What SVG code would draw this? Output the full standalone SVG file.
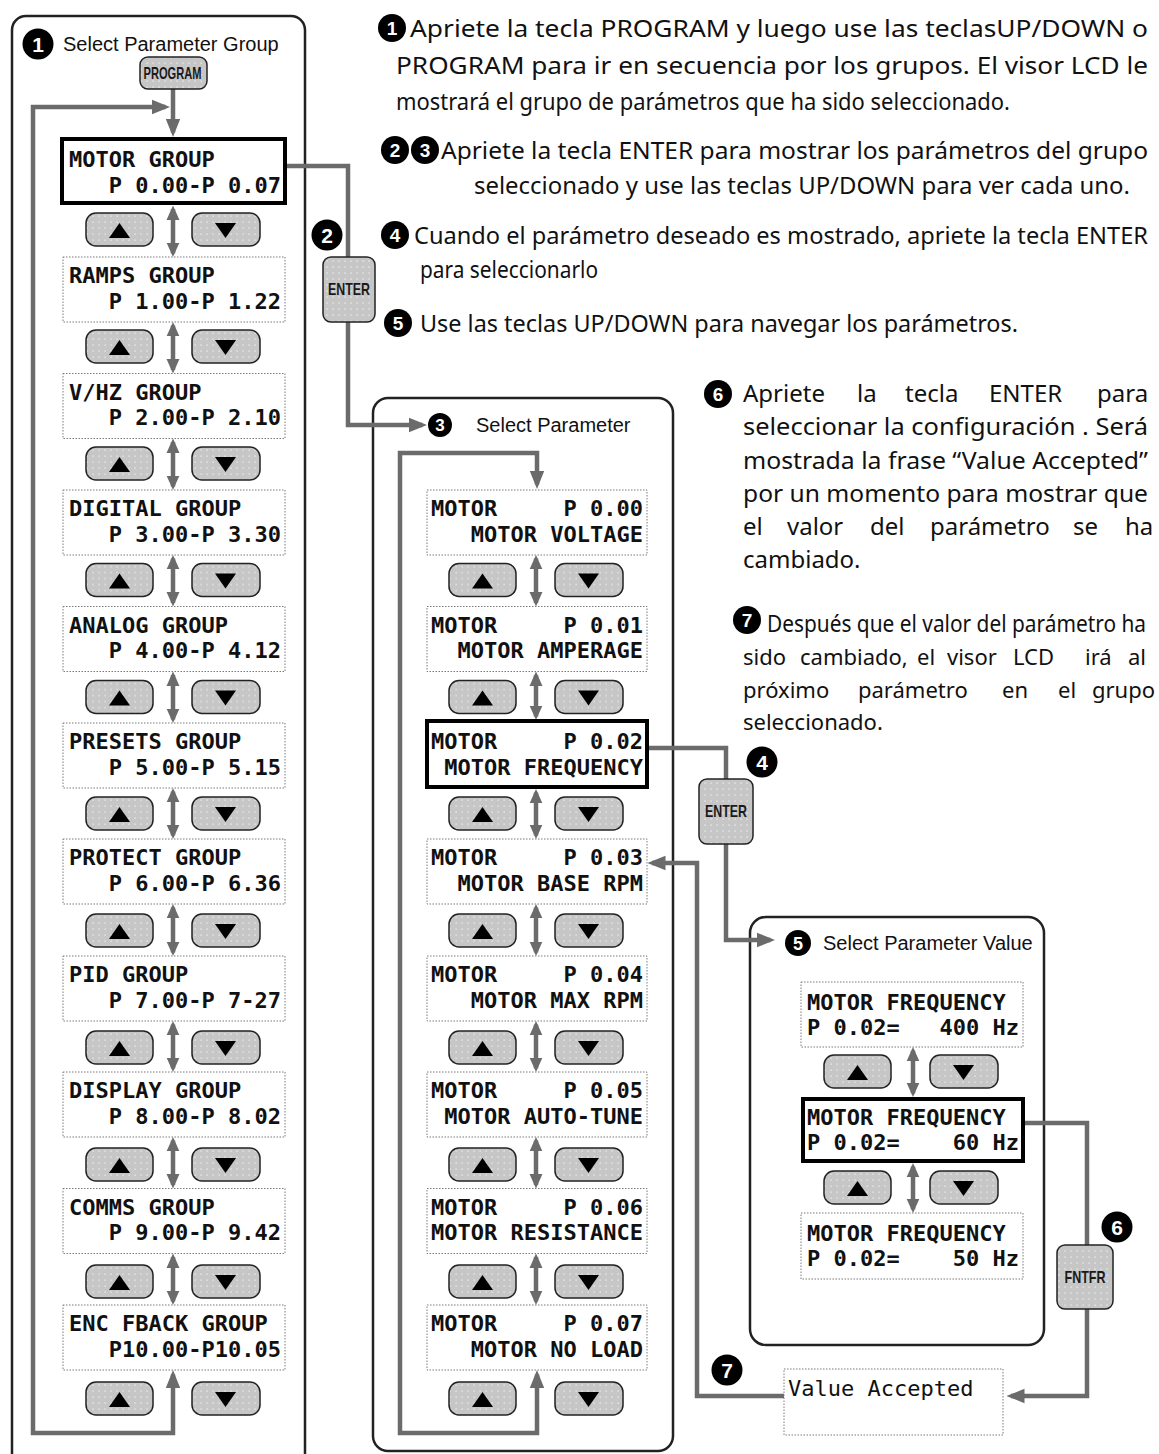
<svg xmlns="http://www.w3.org/2000/svg" width="1159" height="1454" viewBox="0 0 1159 1454">
<style>
.lcd{font-family:"DejaVu Sans Mono",monospace;font-size:22px;font-weight:bold;fill:#111}
.lcdn{font-family:"DejaVu Sans Mono",monospace;font-size:22px;fill:#111}
.lcdbox{fill:#fff;stroke:#7a7a7a;stroke-width:1;stroke-dasharray:1.5 1.5}
.sel{fill:#fff;stroke:#000;stroke-width:4}
.btn{fill:url(#dots);stroke:#222;stroke-width:1.5}
.tri{fill:#000}
.con{fill:none;stroke:#6b6b6b;stroke-width:4.5;stroke-linejoin:miter}
.arr{marker-end:url(#ah)}
.dbl{marker-start:url(#dh);marker-end:url(#dh)}
.hdr{font-family:"Liberation Sans",Arial,sans-serif;font-size:20px;fill:#111}
.desc{font-family:"Noto Sans","Liberation Sans",sans-serif;font-size:24px;fill:#111}
.d7{font-size:22px}
.num{fill:#000}
.numt{font-family:"Liberation Sans",Arial,sans-serif;font-weight:bold;fill:#fff;text-anchor:middle}
.key{font-family:"Liberation Sans",Arial,sans-serif;font-size:17px;font-weight:bold;fill:#1a1a1a;text-anchor:middle}
.panel{fill:none;stroke:#222;stroke-width:2.5}
</style>
<defs>
<pattern id="dots" width="6" height="6" patternUnits="userSpaceOnUse">
<rect width="6" height="6" fill="#c6c6c6"/>
<rect x="2.5" y="2.5" width="1.2" height="1.2" fill="#f4f4f4"/>
</pattern>
<marker id="ah" viewBox="0 0 10 10" refX="7.5" refY="5" markerWidth="4" markerHeight="4" orient="auto-start-reverse">
<path d="M0,1 L10,5 L0,9 z" fill="#6b6b6b"/>
</marker>
<marker id="dh" viewBox="0 0 10 10" refX="7.5" refY="5" markerWidth="3.2" markerHeight="3.2" orient="auto-start-reverse">
<path d="M0,0.5 L10,5 L0,9.5 z" fill="#6b6b6b"/>
</marker>
<g id="bp">
<rect class="btn" x="-88" y="0" width="67" height="33" rx="10"/>
<rect class="btn" x="18" y="0" width="68" height="33" rx="10"/>
<polygon class="tri" points="-54.5,10 -44,25 -65,25"/>
<polygon class="tri" points="41,10 62,10 51.5,25"/>
</g>
</defs>
<rect width="1159" height="1454" fill="#fff"/>

<!-- panels -->
<g id="panel-groups">
<path class="panel" d="M12,1454 V30 A14,14 0 0 1 26,16 H291 A14,14 0 0 1 305,30 V1454"/>
<circle class="num" cx="38" cy="44" r="15.5"/>
<text class="numt" x="38" y="51.5" font-size="21">1</text>
<text class="hdr" x="63" y="51">Select Parameter Group</text>
</g>
<g id="panel-params">
<rect class="panel" x="373" y="398" width="300" height="1053" rx="15"/>
<circle class="num" cx="440" cy="425" r="12"/>
<text class="numt" x="440" y="431" font-size="17">3</text>
<text class="hdr" x="476" y="432">Select Parameter</text>
</g>
<g id="panel-values">
<rect class="panel" x="750" y="917" width="294" height="428" rx="16"/>
<circle class="num" cx="798" cy="943" r="13"/>
<text class="numt" x="798" y="949.5" font-size="18">5</text>
<text class="hdr" x="823" y="950" font-size="18.5">Select Parameter Value</text>
</g>

<!-- connectors -->
<g id="connectors">
<path class="con arr" d="M173,89 V132.5"/>
<path class="con" d="M165.5,107 H33 V1433 H173 V1374.5" marker-start="url(#ah)" marker-end="url(#ah)"/>
<path class="con" d="M287,166 H348 V257"/>
<path class="con arr" d="M348,322 V425 H422.5"/>
<path class="con" d="M537,484.5 V453 H400 V1433 H537 V1374.5" marker-start="url(#ah)" marker-end="url(#ah)"/>
<path class="con" d="M647,748 H726 V779"/>
<path class="con arr" d="M726,844 V940 H770.5"/>
<path class="con" d="M1025,1123 H1087 V1245"/>
<path class="con arr" d="M1087,1309 V1396 H1011"/>
<path class="con arr" d="M784,1396 H697 V863 H652"/>
<path class="con dbl" d="M173,209.1V253.4"/>
<path class="con dbl" d="M173,325.6V369.9"/>
<path class="con dbl" d="M173,442.1V486.4"/>
<path class="con dbl" d="M173,558.6V602.9"/>
<path class="con dbl" d="M173,675.1V719.4"/>
<path class="con dbl" d="M173,791.6V835.4"/>
<path class="con dbl" d="M173,907.6V952.4"/>
<path class="con dbl" d="M173,1024.6V1068.4"/>
<path class="con dbl" d="M173,1140.6V1184.9"/>
<path class="con dbl" d="M173,1257.1V1301.4"/>
<path class="con dbl" d="M536,558.6V602.9"/>
<path class="con dbl" d="M536,675.1V716.4"/>
<path class="con dbl" d="M536,792.6V835.4"/>
<path class="con dbl" d="M536,907.6V952.4"/>
<path class="con dbl" d="M536,1024.6V1068.4"/>
<path class="con dbl" d="M536,1140.6V1184.9"/>
<path class="con dbl" d="M536,1257.1V1301.4"/>
<path class="con dbl" d="M913,1050.6V1093.4"/>
<path class="con dbl" d="M913,1166.6V1209.4"/>
</g>

<!-- buttons -->
<g id="buttons">
<use href="#bp" x="174" y="213"/>
<use href="#bp" x="174" y="330"/>
<use href="#bp" x="174" y="447"/>
<use href="#bp" x="174" y="563.5"/>
<use href="#bp" x="174" y="680.5"/>
<use href="#bp" x="174" y="797"/>
<use href="#bp" x="174" y="914"/>
<use href="#bp" x="174" y="1031"/>
<use href="#bp" x="174" y="1148"/>
<use href="#bp" x="174" y="1265"/>
<use href="#bp" x="174" y="1382"/>
<use href="#bp" x="537" y="563.5"/>
<use href="#bp" x="537" y="680.5"/>
<use href="#bp" x="537" y="797"/>
<use href="#bp" x="537" y="914"/>
<use href="#bp" x="537" y="1031"/>
<use href="#bp" x="537" y="1148"/>
<use href="#bp" x="537" y="1265"/>
<use href="#bp" x="537" y="1382"/>
<use href="#bp" x="912" y="1055"/>
<use href="#bp" x="912" y="1171"/>
</g>

<!-- keys -->
<g id="key-program">
<rect class="btn" x="140" y="57" width="67" height="32" rx="8"/>
<text class="key" x="172.5" y="79" textLength="58" lengthAdjust="spacingAndGlyphs">PROGRAM</text>
</g>
<g id="key-enter1">
<rect class="btn" x="323" y="257" width="52" height="65" rx="8"/>
<text class="key" x="349" y="295" textLength="42" lengthAdjust="spacingAndGlyphs">ENTER</text>
</g>
<g id="key-enter2">
<rect class="btn" x="699" y="779" width="54" height="65" rx="8"/>
<text class="key" x="726" y="817" textLength="42" lengthAdjust="spacingAndGlyphs">ENTER</text>
</g>
<g id="key-fntfr">
<rect class="btn" x="1057" y="1245" width="56" height="64" rx="8"/>
<text class="key" x="1085" y="1283" textLength="41" lengthAdjust="spacingAndGlyphs">FNTFR</text>
</g>

<!-- step markers -->
<g id="step2"><circle class="num" cx="327" cy="235" r="15.5"/><text class="numt" x="327" y="242.5" font-size="21">2</text></g>
<g id="step4"><circle class="num" cx="762" cy="762" r="15.5"/><text class="numt" x="762" y="769.5" font-size="21">4</text></g>
<g id="step6"><circle class="num" cx="1117" cy="1227" r="15.5"/><text class="numt" x="1117" y="1234.5" font-size="21">6</text></g>
<g id="step7"><circle class="num" cx="727" cy="1370" r="15.5"/><text class="numt" x="727" y="1377.5" font-size="21">7</text></g>

<!-- group nodes -->
<g id="g-motor"><rect class="sel" x="62" y="139" width="223" height="64"/>
<text class="lcd" x="69" y="167" xml:space="preserve">MOTOR GROUP</text><text class="lcd" x="69" y="192.5" xml:space="preserve">   P 0.00-P 0.07</text></g>
<g id="g-ramps"><rect class="lcdbox" x="63" y="257" width="222" height="65"/>
<text class="lcd" x="69" y="283" xml:space="preserve">RAMPS GROUP</text><text class="lcd" x="69" y="308.5" xml:space="preserve">   P 1.00-P 1.22</text></g>
<g id="g-vhz"><rect class="lcdbox" x="63" y="373.5" width="222" height="65"/>
<text class="lcd" x="69" y="399.5" xml:space="preserve">V/HZ GROUP</text><text class="lcd" x="69" y="425" xml:space="preserve">   P 2.00-P 2.10</text></g>
<g id="g-digital"><rect class="lcdbox" x="63" y="490" width="222" height="65"/>
<text class="lcd" x="69" y="516" xml:space="preserve">DIGITAL GROUP</text><text class="lcd" x="69" y="541.5" xml:space="preserve">   P 3.00-P 3.30</text></g>
<g id="g-analog"><rect class="lcdbox" x="63" y="606.5" width="222" height="65"/>
<text class="lcd" x="69" y="632.5" xml:space="preserve">ANALOG GROUP</text><text class="lcd" x="69" y="658" xml:space="preserve">   P 4.00-P 4.12</text></g>
<g id="g-presets"><rect class="lcdbox" x="63" y="723" width="222" height="65"/>
<text class="lcd" x="69" y="749" xml:space="preserve">PRESETS GROUP</text><text class="lcd" x="69" y="774.5" xml:space="preserve">   P 5.00-P 5.15</text></g>
<g id="g-protect"><rect class="lcdbox" x="63" y="839" width="222" height="65"/>
<text class="lcd" x="69" y="865" xml:space="preserve">PROTECT GROUP</text><text class="lcd" x="69" y="890.5" xml:space="preserve">   P 6.00-P 6.36</text></g>
<g id="g-pid"><rect class="lcdbox" x="63" y="956" width="222" height="65"/>
<text class="lcd" x="69" y="982" xml:space="preserve">PID GROUP</text><text class="lcd" x="69" y="1007.5" xml:space="preserve">   P 7.00-P 7-27</text></g>
<g id="g-display"><rect class="lcdbox" x="63" y="1072" width="222" height="65"/>
<text class="lcd" x="69" y="1098" xml:space="preserve">DISPLAY GROUP</text><text class="lcd" x="69" y="1123.5" xml:space="preserve">   P 8.00-P 8.02</text></g>
<g id="g-comms"><rect class="lcdbox" x="63" y="1188.5" width="222" height="65"/>
<text class="lcd" x="69" y="1214.5" xml:space="preserve">COMMS GROUP</text><text class="lcd" x="69" y="1240" xml:space="preserve">   P 9.00-P 9.42</text></g>
<g id="g-enc"><rect class="lcdbox" x="63" y="1305" width="222" height="65"/>
<text class="lcd" x="69" y="1331" xml:space="preserve">ENC FBACK GROUP</text><text class="lcd" x="69" y="1356.5" xml:space="preserve">   P10.00-P10.05</text></g>

<!-- parameter nodes -->
<g id="p-000"><rect class="lcdbox" x="427" y="490" width="220" height="65"/>
<text class="lcd" x="431" y="516" xml:space="preserve">MOTOR     P 0.00</text><text class="lcd" x="431" y="541.5" xml:space="preserve">   MOTOR VOLTAGE</text></g>
<g id="p-001"><rect class="lcdbox" x="427" y="606.5" width="220" height="65"/>
<text class="lcd" x="431" y="632.5" xml:space="preserve">MOTOR     P 0.01</text><text class="lcd" x="431" y="658" xml:space="preserve">  MOTOR AMPERAGE</text></g>
<g id="p-002"><rect class="sel" x="427" y="721" width="220" height="66"/>
<text class="lcd" x="431" y="749" xml:space="preserve">MOTOR     P 0.02</text><text class="lcd" x="431" y="774.5" xml:space="preserve"> MOTOR FREQUENCY</text></g>
<g id="p-003"><rect class="lcdbox" x="427" y="839" width="220" height="65"/>
<text class="lcd" x="431" y="865" xml:space="preserve">MOTOR     P 0.03</text><text class="lcd" x="431" y="890.5" xml:space="preserve">  MOTOR BASE RPM</text></g>
<g id="p-004"><rect class="lcdbox" x="427" y="956" width="220" height="65"/>
<text class="lcd" x="431" y="982" xml:space="preserve">MOTOR     P 0.04</text><text class="lcd" x="431" y="1007.5" xml:space="preserve">   MOTOR MAX RPM</text></g>
<g id="p-005"><rect class="lcdbox" x="427" y="1072" width="220" height="65"/>
<text class="lcd" x="431" y="1098" xml:space="preserve">MOTOR     P 0.05</text><text class="lcd" x="431" y="1123.5" xml:space="preserve"> MOTOR AUTO-TUNE</text></g>
<g id="p-006"><rect class="lcdbox" x="427" y="1188.5" width="220" height="65"/>
<text class="lcd" x="431" y="1214.5" xml:space="preserve">MOTOR     P 0.06</text><text class="lcd" x="431" y="1240" xml:space="preserve">MOTOR RESISTANCE</text></g>
<g id="p-007"><rect class="lcdbox" x="427" y="1305" width="220" height="65"/>
<text class="lcd" x="431" y="1331" xml:space="preserve">MOTOR     P 0.07</text><text class="lcd" x="431" y="1356.5" xml:space="preserve">   MOTOR NO LOAD</text></g>

<!-- value nodes -->
<g id="v-400"><rect class="lcdbox" x="801" y="982" width="222" height="65"/>
<text class="lcd" x="807" y="1010" xml:space="preserve">MOTOR FREQUENCY</text><text class="lcd" x="807" y="1035" xml:space="preserve">P 0.02=   400 Hz</text></g>
<g id="v-60"><rect class="sel" x="803" y="1099" width="220" height="62"/>
<text class="lcd" x="807" y="1125" xml:space="preserve">MOTOR FREQUENCY</text><text class="lcd" x="807" y="1150" xml:space="preserve">P 0.02=    60 Hz</text></g>
<g id="v-50"><rect class="lcdbox" x="801" y="1213" width="222" height="66"/>
<text class="lcd" x="807" y="1241" xml:space="preserve">MOTOR FREQUENCY</text><text class="lcd" x="807" y="1266" xml:space="preserve">P 0.02=    50 Hz</text></g>
<g id="value-accepted"><rect class="lcdbox" x="784" y="1369" width="219" height="66"/>
<text class="lcdn" x="788" y="1396">Value Accepted</text></g>

<!-- description -->
<g id="desc">
<circle class="num" cx="392" cy="28" r="14"/><text class="numt" x="392" y="34.5" font-size="19">1</text>
<text class="desc" x="410" y="37" textLength="738" lengthAdjust="spacingAndGlyphs">Apriete la tecla PROGRAM y luego use las teclasUP/DOWN o</text>
<text class="desc" x="396" y="74" textLength="752" lengthAdjust="spacingAndGlyphs">PROGRAM para ir en secuencia por los grupos. El visor LCD le</text>
<text class="desc" x="396" y="110" textLength="614" lengthAdjust="spacingAndGlyphs">mostrará el grupo de  parámetros que ha sido seleccionado.</text>
<circle class="num" cx="395" cy="150" r="14"/><text class="numt" x="395" y="156.5" font-size="19">2</text>
<circle class="num" cx="425" cy="150" r="14"/><text class="numt" x="425" y="156.5" font-size="19">3</text>
<text class="desc" x="441" y="159" textLength="707" lengthAdjust="spacingAndGlyphs">Apriete la tecla ENTER para mostrar los parámetros del grupo</text>
<text class="desc" x="474" y="194" textLength="656" lengthAdjust="spacingAndGlyphs">seleccionado  y use las teclas UP/DOWN para ver cada uno.</text>
<circle class="num" cx="395" cy="235" r="14"/><text class="numt" x="395" y="241.5" font-size="19">4</text>
<text class="desc" x="414" y="244" textLength="734" lengthAdjust="spacingAndGlyphs">Cuando el parámetro deseado es mostrado, apriete la tecla ENTER</text>
<text class="desc" x="420" y="278" textLength="178" lengthAdjust="spacingAndGlyphs">para seleccionarlo</text>
<circle class="num" cx="398" cy="323" r="14"/><text class="numt" x="398" y="329.5" font-size="19">5</text>
<text class="desc" x="420" y="332" textLength="598" lengthAdjust="spacingAndGlyphs">Use las teclas UP/DOWN para navegar los parámetros.</text>
<circle class="num" cx="718" cy="394" r="14"/><text class="numt" x="718" y="400.5" font-size="19">6</text>
<text class="desc" y="402"><tspan x="743">Apriete </tspan><tspan x="857">la </tspan><tspan x="905">tecla </tspan><tspan x="989">ENTER </tspan><tspan x="1097">para</tspan></text>
<text class="desc" x="743" y="435" textLength="405" lengthAdjust="spacingAndGlyphs">seleccionar la configuración . Será</text>
<text class="desc" x="743" y="468.5" textLength="405" lengthAdjust="spacingAndGlyphs">mostrada la frase “Value Accepted”</text>
<text class="desc" x="743" y="502" textLength="405" lengthAdjust="spacingAndGlyphs">por un momento para mostrar que</text>
<text class="desc" y="535"><tspan x="743">el </tspan><tspan x="787">valor </tspan><tspan x="870">del </tspan><tspan x="930">parámetro </tspan><tspan x="1073">se </tspan><tspan x="1125">ha</tspan></text>
<text class="desc" x="743" y="568">cambiado.</text>
<circle class="num" cx="747" cy="620" r="14"/><text class="numt" x="747" y="626.5" font-size="19">7</text>
<text class="desc" x="767" y="632" font-size="19" textLength="379" lengthAdjust="spacingAndGlyphs">Después que el valor del  parámetro ha</text>
<text class="desc d7" y="665"><tspan x="743">sido </tspan><tspan x="800">cambiado, </tspan><tspan x="917">el </tspan><tspan x="947">visor </tspan><tspan x="1013">LCD </tspan><tspan x="1085">irá </tspan><tspan x="1128">al</tspan></text>
<text class="desc d7" y="698"><tspan x="743">próximo </tspan><tspan x="858">parámetro </tspan><tspan x="1002">en </tspan><tspan x="1058">el </tspan><tspan x="1092">grupo</tspan></text>
<text class="desc d7" x="743" y="730">seleccionado.</text>
</g>
</svg>
